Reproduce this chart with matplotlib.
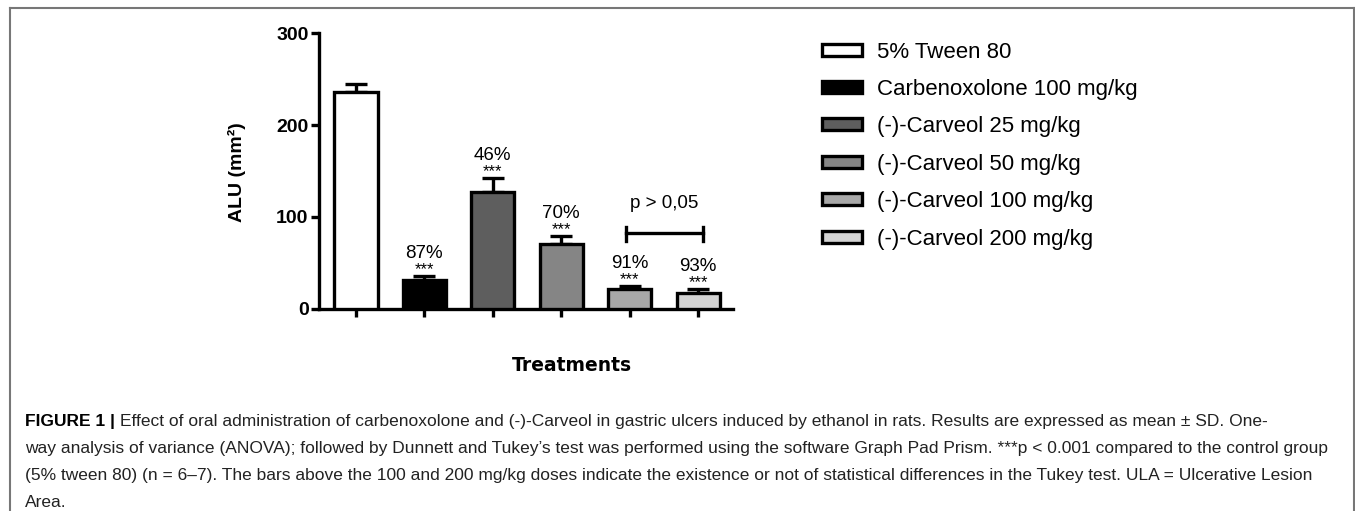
import matplotlib
matplotlib.use("Agg")
import matplotlib.pyplot as plt

# ---- data ----
groups = ["5% Tween 80", "Carbenoxolone 100 mg/kg", "(-)-Carveol 25 mg/kg",
          "(-)-Carveol 50 mg/kg", "(-)-Carveol 100 mg/kg", "(-)-Carveol 200 mg/kg"]
means = [236, 31, 127, 70, 21, 17]
errors = [9, 5, 15, 9, 4, 4]
colors = ["#ffffff", "#000000", "#5e5e5e", "#858585", "#a8a8a8", "#d3d3d3"]
percent_labels = ["", "87%", "46%", "70%", "91%", "93%"]
star_labels = ["", "***", "***", "***", "***", "***"]
bracket_groups = [4, 5]
bracket_label = "p > 0,05"
bracket_y = 82
yticks = [0, 100, 200, 300]

caption_lines = [
    "Effect of oral administration of carbenoxolone and (-)-Carveol in gastric ulcers induced by ethanol in rats. Results are expressed as mean \u00b1 SD. One-",
    "way analysis of variance (ANOVA); followed by Dunnett and Tukey\u2019s test was performed using the software Graph Pad Prism. ***p < 0.001 compared to the control group",
    "(5% tween 80) (n = 6\u20137). The bars above the 100 and 200 mg/kg doses indicate the existence or not of statistical differences in the Tukey test. ULA = Ulcerative Lesion",
    "Area.",
]

W, H = 1355, 511
fig = plt.figure(figsize=(W / 100, H / 100), dpi=100)
fig.patch.set_facecolor("white")

# outer frame (open at bottom)
frame_kw = dict(transform=fig.transFigure, color="#777777", lw=1.5)
fig.add_artist(plt.Line2D([9.5 / W, 9.5 / W], [0, 1 - 8.5 / H], **frame_kw))
fig.add_artist(plt.Line2D([1353.5 / W, 1353.5 / W], [0, 1 - 8.5 / H], **frame_kw))
fig.add_artist(plt.Line2D([9.5 / W, 1353.5 / W], [1 - 8.5 / H, 1 - 8.5 / H], **frame_kw))

ax_l, ax_r, ax_t, ax_b = 319, 733, 33.3, 308.7
ax = fig.add_axes([ax_l / W, 1 - ax_b / H, (ax_r - ax_l) / W, (ax_b - ax_t) / H])
axw, axh = ax_r - ax_l, ax_b - ax_t

x = list(range(len(means)))
lw = 2.4
bars = ax.bar(x, means, width=0.63, color=colors, edgecolor="black", linewidth=lw, zorder=3)
ax.errorbar(x, means, yerr=[[0] * len(means), errors], fmt="none", ecolor="black",
            elinewidth=lw, capsize=8, capthick=lw, zorder=2)

ax.set_xlim(-0.54, 5.51)
ax.set_ylim(0, 300)
ax.set_yticks(yticks)
ax.set_yticklabels([str(t) for t in yticks], fontfamily="Liberation Sans",
                   fontweight="bold", fontsize=14)
ax.set_xticks(x)
ax.set_xticklabels([])
for s in ["top", "right"]:
    ax.spines[s].set_visible(False)
for s in ["left", "bottom"]:
    ax.spines[s].set_linewidth(lw)
ax.tick_params(axis="both", width=lw, length=5.5, direction="out")
ax.tick_params(axis="y", pad=2)

ax.set_ylabel("ALU (mm\u00b2)", fontfamily="Liberation Sans", fontweight="bold", fontsize=14)
ax.yaxis.label.set_va("center")
ax.yaxis.set_label_coords((237 - ax_l) / axw, (ax_b - 172) / axh)
ax.set_xlabel("Treatments", fontfamily="DejaVu Sans", fontweight="bold", fontsize=13.5)
ax.xaxis.label.set_va("center")
ax.xaxis.set_label_coords((571.7 - ax_l) / axw, (ax_b - 365) / axh)

# annotations
for i in x:
    top = means[i] + errors[i]
    if star_labels[i]:
        ax.annotate(star_labels[i], (i, top), xytext=(0, 1.3), textcoords="offset points",
                    ha="center", va="baseline", fontsize=12, fontfamily="Liberation Sans")
    if percent_labels[i]:
        ax.annotate(percent_labels[i], (i, top), xytext=(0, 13), textcoords="offset points",
                    ha="center", va="baseline", fontsize=13.5, fontfamily="Liberation Sans")

# Tukey bracket
x0, x1 = bracket_groups[0] - 0.06, bracket_groups[1] + 0.07
ax.plot([x0, x1], [bracket_y, bracket_y], color="black", lw=lw, clip_on=False)
ax.plot([x0, x0], [bracket_y - 8, bracket_y + 7], color="black", lw=lw, clip_on=False)
ax.plot([x1, x1], [bracket_y - 8, bracket_y + 7], color="black", lw=lw, clip_on=False)
ax.text((x0 + x1) / 2, 115, bracket_label, ha="center", va="center",
        fontsize=13.5, fontfamily="Liberation Sans")

# legend
leg = ax.legend(handles=list(bars), labels=groups, loc="upper left",
                bbox_to_anchor=(822 / W, 1 - 41.5 / H), bbox_transform=fig.transFigure,
                frameon=False, prop={"family": "Liberation Sans", "size": 16},
                handlelength=1.8, handleheight=0.45, handletextpad=0.68,
                labelspacing=0.74, borderaxespad=0, borderpad=0)
for h in leg.legend_handles:
    h.set_linewidth(lw)

# caption
y0 = 421.7
fs_cap = 12.5
for k, line in enumerate(caption_lines):
    yy = 1 - (y0 + k * 27) / H
    if k == 0:
        t = fig.text(25 / W, yy, "FIGURE 1 | ", fontfamily="Liberation Sans", fontweight="bold",
                     fontsize=fs_cap, va="center", ha="left")
        fig.canvas.draw()
        bb = t.get_window_extent()
        fig.text(bb.x1 / W, yy, line, fontfamily="Liberation Sans", fontsize=fs_cap,
                 va="center", ha="left", color="#222222")
    else:
        fig.text(25 / W, yy, line, fontfamily="Liberation Sans", fontsize=fs_cap,
                 va="center", ha="left", color="#222222")

fig.savefig("out.png", dpi=100, facecolor="white")
